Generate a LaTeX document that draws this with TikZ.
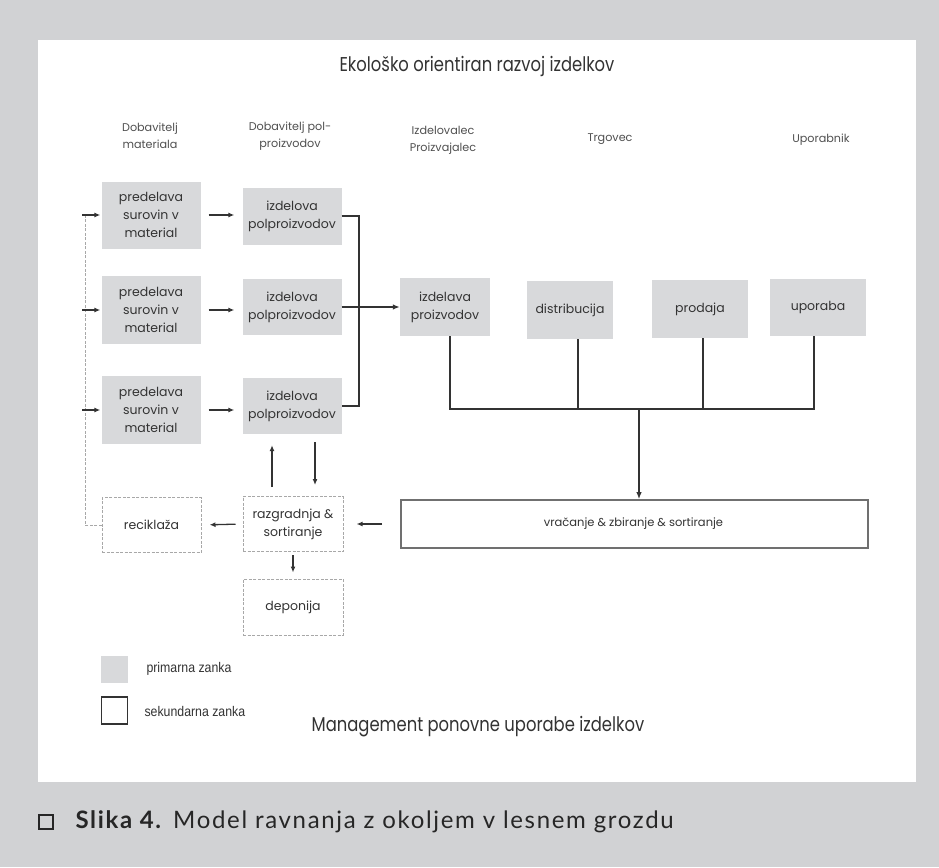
\documentclass[tikz,border=0pt]{standalone}
\usepackage{fontspec}
\setmainfont{Lato}
\newfontfamily\capfont[LetterSpace=7]{Lato}
\newfontfamily\geo{Poppins}
\newfontfamily\geoc[FakeStretch=0.82]{Poppins}
\newfontfamily\narrowf[FakeStretch=0.88]{Liberation Sans}
\usetikzlibrary{arrows.meta}
\definecolor{bggray}{HTML}{D1D2D4}
\definecolor{boxgray}{HTML}{D8D9DB}
\definecolor{ink}{HTML}{333333}
\definecolor{headink}{HTML}{505050}
\definecolor{dashgray}{HTML}{A8A8A8}
\definecolor{framegray}{HTML}{707070}
\begin{document}
\begin{tikzpicture}[x=1pt,y=-1pt,
  prim/.style={fill=boxgray, draw=none, text=ink, align=center, inner sep=0pt,
    font=\geo\fontsize{12.5}{18}\selectfont},
  sec/.style={draw=dashgray, dash pattern=on 3pt off 1.5pt, line width=1pt, fill=white,
    text=ink, align=center, inner sep=0pt, font=\geo\fontsize{12.5}{18}\selectfont},
  conn/.style={draw=ink, line width=2pt},
  arr/.style={draw=ink, line width=1.3pt, -{Latex[length=6pt,width=5pt]}},
  fb/.style={draw=dashgray, line width=1pt, dash pattern=on 3pt off 1.5pt},
  head/.style={text=headink, align=center, font=\geo\fontsize{11.2}{17}\selectfont},
  bigtitle/.style={text=ink, font=\geoc\fontsize{20}{24}\selectfont},
  legtext/.style={text=ink, anchor=west, font=\narrowf\fontsize{14}{16}\selectfont}
]
\useasboundingbox (0,0) rectangle (939,867);
\fill[bggray] (0,0) rectangle (939,867);
\fill[white] (38,40) rectangle (916,782);

% titles
\node[bigtitle] (t1) at (477,66) {Ekološko orientiran razvoj izdelkov};
\node[bigtitle] (t2) at (478,727) {Management ponovne uporabe izdelkov};

% headers
\node[head] (h1) at (150,136) {Dobavitelj\\materiala};
\node[head] (h2) at (290,136) {Dobavitelj pol-\\proizvodov};
\node[head] (h3) at (443,140) {Izdelovalec\\Proizvajalec};
\node[head] (h4) at (610,139) {Trgovec};
\node[head] (h5) at (821,140) {Uporabnik};

% primary boxes
\node[prim, minimum width=99pt, minimum height=67pt] (p1) at (151,215) {predelava\\surovin v\\material};
\node[prim, minimum width=99pt, minimum height=68pt] (p2) at (151,310) {predelava\\surovin v\\material};
\node[prim, minimum width=99pt, minimum height=68pt] (p3) at (151,410) {predelava\\surovin v\\material};
\node[prim, minimum width=99pt, minimum height=57pt] (i1) at (292,216) {izdelova\\polproizvodov};
\node[prim, minimum width=99pt, minimum height=56pt] (i2) at (292,307) {izdelova\\polproizvodov};
\node[prim, minimum width=99pt, minimum height=56pt] (i3) at (292,406) {izdelova\\polproizvodov};
\node[prim, minimum width=90pt, minimum height=58pt] (ip) at (445,307) {izdelava\\proizvodov};
\node[prim, minimum width=86pt, minimum height=58pt] (dist) at (570,310) {distribucija};
\node[prim, minimum width=96pt, minimum height=58pt] (prod) at (700,309) {prodaja};
\node[prim, minimum width=96pt, minimum height=57pt] (upo) at (818,307) {uporaba};

% secondary boxes
\node[draw=framegray, line width=1.6pt, fill=white, text=ink, inner sep=0pt,
  font=\geo\fontsize{11.5}{16}\selectfont, minimum width=467pt, minimum height=48pt]
  (vr) at (634.5,524) {\hspace*{-2pt}vračanje \& zbiranje \& sortiranje};
\node[sec, minimum width=100pt, minimum height=55pt] (rz) at (293,524) {razgradnja \&\\sortiranje};
\node[sec, minimum width=99pt, minimum height=55pt] (rec) at (151.5,525) {reciklaža};
\node[sec, minimum width=100pt, minimum height=56pt] (dep) at (293,607) {deponija};

% p -> i arrows
\draw[arr, shorten <=8pt, shorten >=8pt] (p1.east) -- (p1.east -| i1.west);
\draw[arr, shorten <=8pt, shorten >=8pt] (p2.east) -- (p2.east -| i2.west);
\draw[arr, shorten <=8pt, shorten >=8pt] (p3.east) -- (p3.east -| i3.west);

% bracket to izdelava proizvodov
\coordinate (vtop) at (359,216);
\coordinate (vbot) at (359,406);
\draw[conn, line join=miter] (i1.east) -- (vtop) -- (vbot) -- (i3.east);
\draw[conn, -{Latex[length=7pt,width=5.5pt]}] (i2.east) -- (ip.west);

% bus to return
\coordinate (b1) at (450,409);
\coordinate (b2) at (578,409);
\coordinate (b0) at (639,409);
\coordinate (b3) at (703,409);
\coordinate (b4) at (814,409);
\draw[conn, line join=miter] (ip.south -| b1) -- (b1) -- (b4) -- (upo.south -| b4);
\draw[conn] (dist.south -| b2) -- (b2);
\draw[conn] (prod.south -| b3) -- (b3);
\draw[conn, -{Latex[length=7pt,width=5.5pt]}] (b0) -- (vr.north -| b0);

% return flow
\coordinate (ux) at (272,0);
\coordinate (dx) at (315,0);
\draw[arr, shorten <=9pt, shorten >=11pt] (rz.north -| ux) -- (i3.south -| ux);
\draw[arr, shorten <=8pt, shorten >=11pt] (i3.south -| dx) -- (rz.north -| dx);
\draw[arr, shorten <=18pt, shorten >=13pt] (vr.west) -- (rz.east);
\draw[arr, shorten <=7pt, shorten >=8pt] (rz.west) -- (rec.east);
\draw[arr, shorten <=3pt, shorten >=6pt] (rz.south) -- (dep.north);

% feedback (dashed) to material suppliers
\coordinate (fbb) at (85,525);
\coordinate (fbt) at (85,215);
\draw[fb] (rec.west) -- (fbb) -- (fbt);
\coordinate (f1) at (82,215);
\coordinate (f2) at (82,310);
\coordinate (f3) at (82,410);
\draw[arr, shorten >=1pt] (f1) -- (p1.west);
\draw[arr, shorten >=1pt] (f2) -- (p2.west);
\draw[arr, shorten >=1pt] (f3) -- (p3.west);

% legend
\node[fill=boxgray, minimum width=27pt, minimum height=27pt, inner sep=0pt] (lg1) at (114.5,669.5) {};
\node[draw=ink, line width=1.2pt, fill=white, minimum width=26pt, minimum height=27pt, inner sep=0pt] (lg2) at (114.5,710.5) {};
\node[legtext] (lt1) at (143,669) {primarna zanka};
\node[legtext] (lt2) at (141,711) {sekundarna zanka};

% caption
\node[draw=black!85, line width=1.5pt, minimum width=14pt, minimum height=14pt, inner sep=0pt] (cb) at (46,822) {};
\node[anchor=west, text=black!85, font=\capfont\fontsize{24}{27}\selectfont] (cap) at (72,822)
  {\textbf{Slika 4.} Model ravnanja z okoljem v lesnem grozdu};
\end{tikzpicture}
\end{document}
